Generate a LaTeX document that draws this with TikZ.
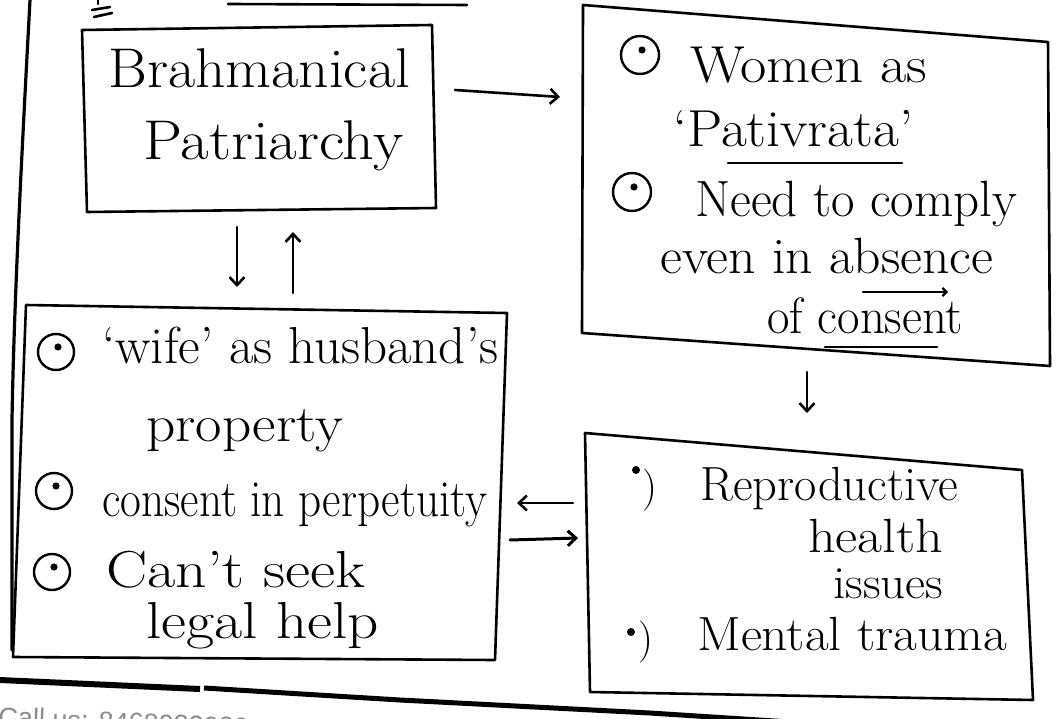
\documentclass[tikz,border=0pt]{standalone}
\usepackage{fontspec}
\usepackage{graphicx}
\usetikzlibrary{arrows.meta}
\newfontfamily\footfont{Liberation Sans}

% handwritten line: font size, target width, text
\newcommand{\hw}[3]{{\fontsize{#1}{#1}\selectfont\resizebox{#2pt}{\height}{#3}}}

\tikzset{
  pen/.style={line width=2.6pt, line cap=round, line join=round},
  frame/.style={pen},
  arr/.style={pen, -{Straight Barb[length=8pt,width=15pt]}},
  hand/.style={inner sep=0pt, anchor=base west},
  bul/.style={circle, draw, line width=2.4pt, minimum size=#1, inner sep=0pt,
    path picture={\fill ([xshift=2pt,yshift=5pt]path picture bounding box.center) circle (3.6pt);}},
  bul/.default=36pt,
}

\begin{document}
\begin{tikzpicture}[x=1pt,y=-1pt]
\useasboundingbox (0,0) rectangle (1056,719);
\fill[white] (0,0) rectangle (1056,719);

% remnants of the heading at the top edge
\draw[pen] (98,0) -- (98,4);
\draw[pen] (92,10) -- (110,7);
\draw[pen] (94,17) -- (112,13);
\draw[pen] (228,4) -- (467,5);

% left margin of the page
\draw[pen, line width=3.2pt] (30,0) .. controls (22,150) and (14,300) .. (12,420) -- (12,650);

% ---------- box corners ----------
\coordinate (b1nw) at (82,30);   \coordinate (b1ne) at (432,25);
\coordinate (b1se) at (436,208); \coordinate (b1sw) at (87,212);
\coordinate (b2nw) at (583,5);   \coordinate (b2ne) at (1048,42);
\coordinate (b2se) at (1050,366);\coordinate (b2sw) at (582,333);
\coordinate (b3nw) at (26,305);  \coordinate (b3ne) at (507,313);
\coordinate (b3se) at (495,660); \coordinate (b3sw) at (13,657);
\coordinate (b4nw) at (585,433); \coordinate (b4ne) at (1022,470);
\coordinate (b4se) at (1033,700);\coordinate (b4sw) at (590,692);

\draw[frame] (b1nw) -- (b1ne) -- (b1se) -- (b1sw) -- cycle;
\draw[frame] (b2nw) -- (b2ne) -- (b2se) -- (b2sw) -- cycle;
\draw[frame] (b3nw) -- (b3ne) -- (b3se) -- (b3sw) -- cycle;
\draw[frame] (b4nw) -- (b4ne) -- (b4se) -- (b4sw) -- cycle;

% ---------- Brahmanical Patriarchy ----------
\node[hand] (brah) at (108,88) {\hw{56}{302}{Brahmanical}};
\node[hand] (patr) at (143,160) {\hw{56}{260}{Patriarchy}};

% ---------- Pativrata box ----------
\node[bul=38pt] (c21) at (640,55) {};
\node[hand] (wom) at (690,83) {\hw{52}{237}{Women as}};
\node[hand] (pati) at (673,147) {\hw{52}{240}{‘Pativrata’}};
\draw[pen] (728,163) -- (902,163);
\node[bul=38pt] (c22) at (632,192) {};
\node[hand] (need) at (695,217) {\hw{51}{322}{Need to comply}};
\node[hand] (even) at (660,273) {\hw{51}{333}{even in absence}};
\coordinate (abs1) at (863,292); \coordinate (abs2) at (948,292);
\draw[pen, line width=2.2pt, -{Straight Barb[length=4pt,width=8pt]}] (abs1) -- (abs2);
\node[hand] (ofc) at (767,333) {\hw{51}{196}{of consent}};
\draw[pen] (825,347) -- (937,347);

% ---------- wife box ----------
\node[bul] (c31) at (56,352) {};
\node[hand] (wife) at (102,363) {\hw{52}{396}{‘wife’ as husband’s}};
\node[hand] (prop) at (146,441) {\hw{52}{197}{property}};
\node[bul] (c32) at (54,491) {};
\node[hand] (cons) at (102,516) {\hw{52}{385}{consent in perpetuity}};
\node[bul] (c33) at (52,572) {};
\node[hand] (cant) at (106,587) {\hw{52}{259}{Can’t seek}};
\node[hand] (legal) at (146,638) {\hw{52}{233}{legal help}};

% ---------- health box ----------
\fill (636,470) circle (4pt);
\node[hand] (p41) at (642,500) {\fontsize{42}{42}\selectfont )};
\node[hand] (repr) at (700,500) {\hw{48}{258}{Reproductive}};
\node[hand] (heal) at (808,552) {\hw{48}{135}{health}};
\node[hand] (issu) at (833,598) {\hw{46}{110}{issues}};
\fill (631,632) circle (4pt);
\node[hand] (p42) at (638,652) {\fontsize{42}{42}\selectfont )};
\node[hand] (ment) at (697,650) {\hw{48}{310}{Mental trauma}};

% ---------- connectors ----------
\coordinate (a1s) at (455,90);  \coordinate (a1e) at (560,97);
\coordinate (a2s) at (237,227); \coordinate (a2e) at (237,287);
\coordinate (a3s) at (293,293); \coordinate (a3e) at (293,232);
\coordinate (a4s) at (807,372); \coordinate (a4e) at (807,413);
\coordinate (a5s) at (573,503); \coordinate (a5e) at (517,503);
\coordinate (a6s) at (510,540); \coordinate (a6e) at (578,538);
\draw[arr] (a1s) -- (a1e);
\draw[arr] (a2s) -- (a2e);
\draw[arr] (a3s) -- (a3e);
\draw[arr] (a4s) -- (a4e);
\draw[arr] (a5s) -- (a5e);
\draw[arr, line width=3pt] (a6s) -- (a6e);

% ---------- bottom rule and footer ----------
\draw[line width=6pt] (0,680) -- (200,689);
\draw[line width=5pt] (204,688) -- (400,700) -- (650,713) -- (790,722);
\node[anchor=base west, rotate=-2.6, text=black!45, inner sep=0pt] (foot) at (-2,726)
  {\footfont\fontsize{27}{27}\selectfont Call us: 8468022022, 9019066066};
\end{tikzpicture}
\end{document}
